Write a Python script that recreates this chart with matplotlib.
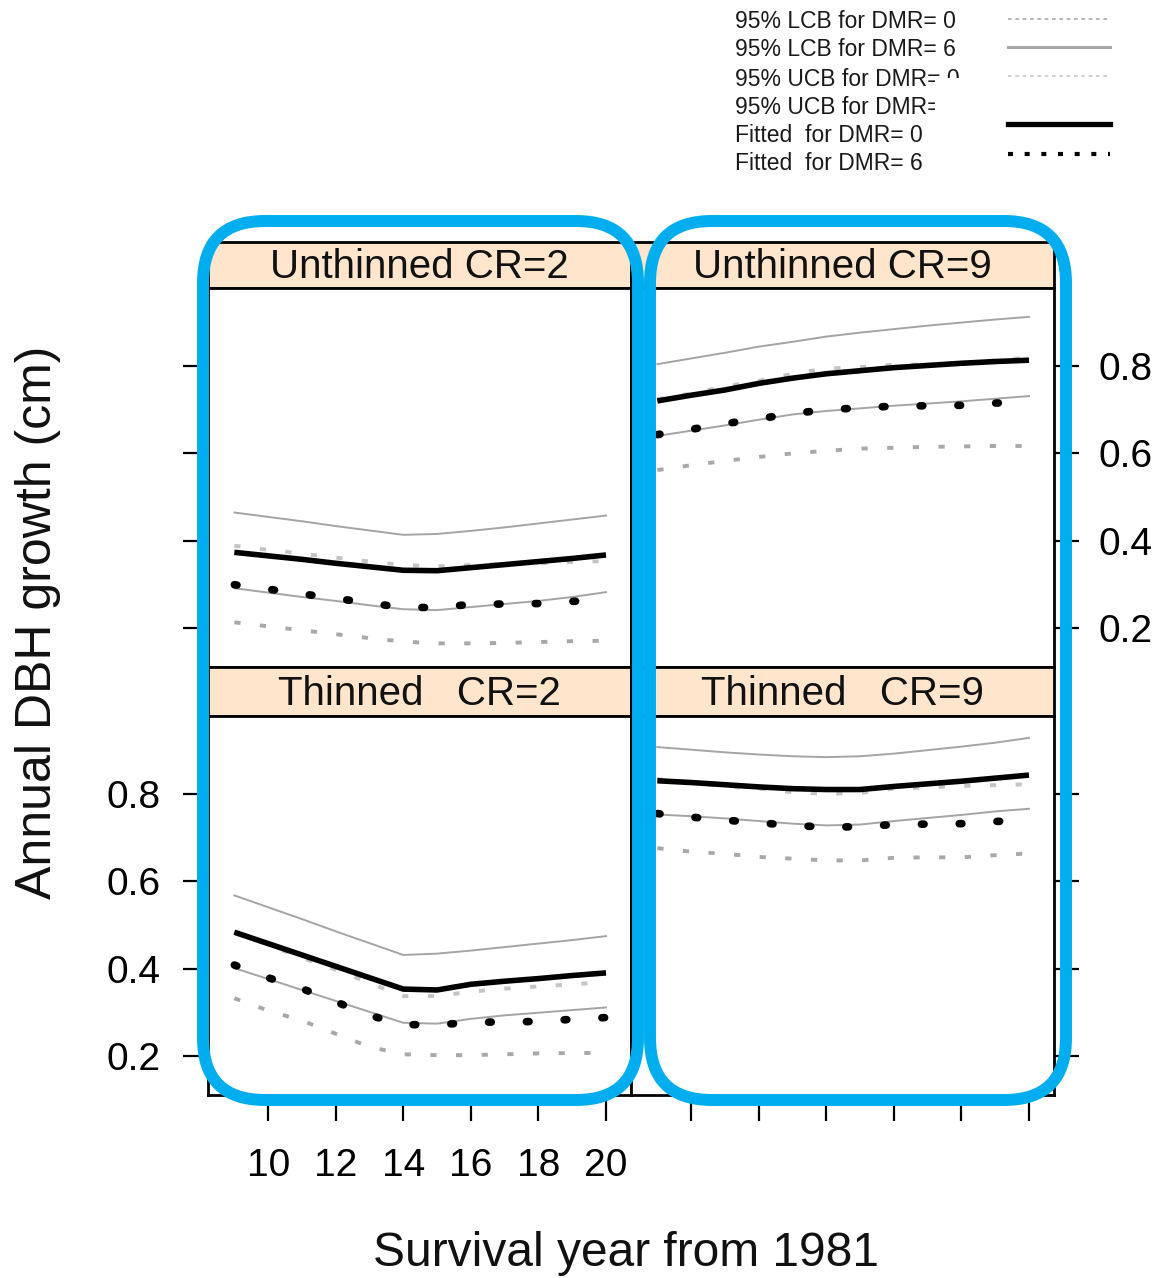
import matplotlib
matplotlib.use("Agg")
import matplotlib.pyplot as plt
from matplotlib.patches import FancyBboxPatch, Rectangle
from matplotlib.lines import Line2D

plt.rcParams['font.family'] = ['Liberation Sans', 'DejaVu Sans']

# ---------------- data ----------------
years = [9, 10, 11, 12, 13, 14, 15, 16, 17, 18, 19, 20]
x_ticks = [10, 12, 14, 16, 18, 20]
y_ticks = [0.2, 0.4, 0.6, 0.8]
panel_titles = ["Unthinned CR=2", "Unthinned CR=9", "Thinned   CR=2", "Thinned   CR=9"]
x_label = "Survival year from 1981"
y_label = "Annual DBH growth (cm)"
legend_labels = ["95% LCB for DMR= 0", "95% LCB for DMR= 6", "95% UCB for DMR= 0",
                 "95% UCB for DMR= 6", "Fitted  for DMR= 0", "Fitted  for DMR= 6"]

# Unthinned CR=2
ut2_upper_solid = [.465, .455, .445, .434, .424, .414, .416, .423, .431, .440, .449, .458]
ut2_upper_dot   = [.389, .380, .371, .362, .353, .345, .342, .345, .347, .349, .352, .354]
ut2_fit0        = [.374, .366, .358, .349, .341, .333, .332, .339, .346, .353, .360, .368]
ut2_fit6        = [.300, .290, .279, .269, .258, .248, .248, .255, .256, .257, .262, .265]
ut2_lower_solid = [.292, .282, .272, .263, .253, .244, .242, .249, .256, .263, .272, .283]
ut2_lower_dot   = [.214, .205, .196, .187, .178, .170, .166, .166, .167, .169, .171, .172]

# Unthinned CR=9
ut9_upper_solid = [.804, .817, .830, .844, .855, .867, .876, .884, .892, .899, .906, .912]
ut9_upper_dot   = [.724, .737, .753, .766, .782, .794, .797, .803, .803, .804, .813, .819]
ut9_fit0        = [.720, .733, .745, .760, .772, .782, .789, .796, .801, .806, .810, .813]
ut9_fit6        = [.643, .655, .668, .679, .691, .700, .704, .708, .709, .710, .715, .718]
ut9_lower_solid = [.640, .652, .664, .677, .689, .697, .703, .709, .714, .719, .725, .731]
ut9_lower_dot   = [.562, .573, .583, .592, .600, .606, .611, .613, .615, .616, .617, .617]

# Thinned CR=2
th2_upper_solid = [.568, .541, .514, .486, .459, .432, .435, .442, .450, .458, .466, .475]
th2_upper_dot   = [.485, .455, .425, .398, .368, .338, .338, .348, .355, .360, .365, .370]
th2_fit0        = [.484, .458, .432, .406, .380, .354, .352, .365, .372, .378, .385, .391]
th2_fit6        = [.409, .380, .355, .325, .294, .273, .272, .278, .279, .280, .285, .289]
th2_lower_solid = [.402, .377, .352, .327, .302, .277, .275, .286, .294, .300, .306, .312]
th2_lower_dot   = [.333, .305, .282, .252, .222, .205, .203, .203, .205, .207, .208, .208]

# Thinned CR=9
th9_upper_solid = [.907, .901, .895, .890, .886, .884, .886, .892, .900, .908, .917, .928]
th9_upper_dot   = [.834, .826, .817, .812, .804, .800, .802, .812, .815, .818, .820, .822]
th9_fit0        = [.830, .826, .821, .816, .812, .810, .810, .817, .823, .829, .836, .843]
th9_fit6        = [.755, .747, .740, .734, .728, .724, .725, .730, .731, .732, .737, .740]
th9_lower_solid = [.753, .749, .744, .738, .732, .728, .730, .738, .745, .752, .760, .766]
th9_lower_dot   = [.676, .668, .663, .656, .652, .648, .648, .654, .655, .655, .660, .664]

panels = [
    (ut2_upper_solid, ut2_upper_dot, ut2_fit0, ut2_fit6, ut2_lower_solid, ut2_lower_dot),
    (ut9_upper_solid, ut9_upper_dot, ut9_fit0, ut9_fit6, ut9_lower_solid, ut9_lower_dot),
    (th2_upper_solid, th2_upper_dot, th2_fit0, th2_fit6, th2_lower_solid, th2_lower_dot),
    (th9_upper_solid, th9_upper_dot, th9_fit0, th9_fit6, th9_lower_solid, th9_lower_dot),
]

# ---------------- styles ----------------
st_solid_gray = dict(color='#a4a4a4', lw=1.4, zorder=2)
st_dot_light = dict(color='#c4c4c4', lw=2.8, dashes=(1.6, 5.0), dash_capstyle='butt', zorder=2)
st_dot_gray = dict(color='#a8a8a8', lw=2.8, dashes=(1.6, 5.0), dash_capstyle='butt', zorder=2)
st_fit0 = dict(color='black', lw=4.0, solid_capstyle='butt', zorder=3)
st_fit6 = dict(color='black', lw=5.5, dashes=(0.35, 4.6), dash_capstyle='round', zorder=3)
styles = [st_solid_gray, st_dot_light, st_fit0, st_fit6, st_solid_gray, st_dot_gray]

W, H = 1165, 1278
fig = plt.figure(figsize=(W / 100, H / 100), dpi=100)


def px_axes(x0, y0, x1, y1, **kw):
    return fig.add_axes([x0 / W, 1 - y1 / H, (x1 - x0) / W, (y1 - y0) / H], **kw)


cols = [(208, 631), (631, 1054)]
rows = [((241.5, 288), (288, 667)), ((667, 716), (716, 1095))]
frame_lw = 2.0
strip_col = '#ffe5cc'

for r in range(2):
    for c in range(2):
        idx = r * 2 + c
        x0, x1 = cols[c]
        (sy0, sy1), (py0, py1) = rows[r]
        # strip
        sax = px_axes(x0, sy0, x1, sy1)
        sax.set_facecolor(strip_col)
        sax.set_xticks([]); sax.set_yticks([])
        for sp in sax.spines.values():
            sp.set_linewidth(frame_lw)
        sax.text(0.5, 0.45, panel_titles[idx], transform=sax.transAxes,
                 ha='center', va='center', fontsize=29, color='#111111')
        # plot
        ax = px_axes(x0, py0, x1, py1)
        for series, st in zip(panels[idx], styles):
            ax.plot(years, series, **st)
        ax.set_xlim(8.22, 20.74)
        ax.set_ylim(0.112, 0.978)
        ax.set_xticks(x_ticks)
        ax.set_yticks(y_ticks)
        ax.set_yticklabels([f"{v:.1f}" for v in y_ticks])
        for sp in ax.spines.values():
            sp.set_linewidth(frame_lw)
        left = (c == 0)
        ax.tick_params(axis='y', direction='out', length=18, width=1.6, labelsize=28,
                       left=left, right=not left,
                       labelleft=(left and r == 1), labelright=(not left and r == 0),
                       pad=16 if left else 14)
        ax.tick_params(axis='x', direction='out', length=19, width=1.6, labelsize=28,
                       bottom=(r == 1), top=False, labelbottom=(r == 1 and c == 0),
                       pad=19)

# ---------------- overlay (labels, legend, blue frames) ----------------
ov = fig.add_axes([0, 0, 1, 1], zorder=10)
ov.set_xlim(0, W)
ov.set_ylim(H, 0)
ov.axis('off')

ov.text(38, 622, y_label, rotation=90, ha='center', va='center', fontsize=36, color='#111111')
ov.text(626, 1254, x_label, ha='center', va='center', fontsize=34.5, color='#111111')

# legend
leg_text_y = [21, 50, 79, 108, 136, 164]
leg_line_y = [19, 47, 76, None, 124, 154]
leg_styles = [
    dict(color='#a8a8a8', lw=1.2, dashes=(2.2, 2.2)),
    dict(color='#a8a8a8', lw=2.2),
    dict(color='#c8c8c8', lw=1.2, dashes=(2.2, 2.2)),
    None,
    dict(color='black', lw=3.8),
    dict(color='black', lw=3.0, dashes=(1.2, 2.8)),
]
for lab, ty, ly, st in zip(legend_labels, leg_text_y, leg_line_y, leg_styles):
    ov.text(735, ty, lab, ha='left', va='center', fontsize=16.5, color='#1a1a1a')
    if st is not None:
        ov.add_line(Line2D([1008, 1110], [ly, ly], **st))
ov.add_patch(Rectangle((935, 78), 200, 39, facecolor='white', edgecolor='none', zorder=5))

# blue rounded frames
blue = '#00aeef'
for (bx0, bx1) in [(203, 638), (650, 1066)]:
    ov.add_patch(FancyBboxPatch((bx0, 221), bx1 - bx0, 1100 - 221,
                                boxstyle="round,pad=0,rounding_size=62",
                                fill=False, edgecolor=blue, lw=8.6, zorder=6))

fig.savefig("out.png", dpi=100)
